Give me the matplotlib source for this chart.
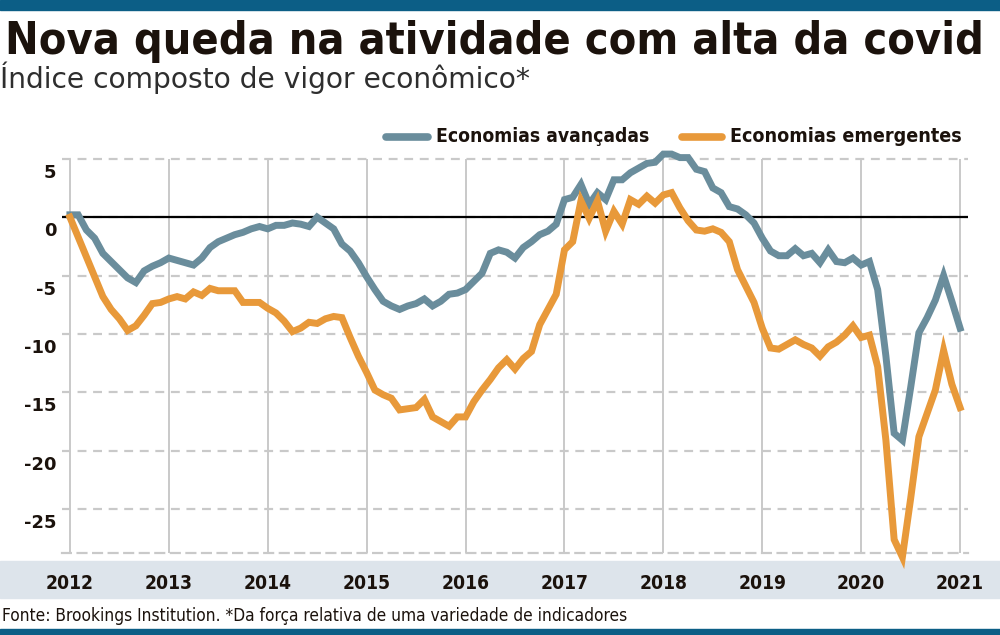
import os
import matplotlib
matplotlib.use('Agg')
import matplotlib.pyplot as plt
from matplotlib import font_manager
from matplotlib.font_manager import FontProperties
from matplotlib.lines import Line2D
from matplotlib.patches import Rectangle
from matplotlib.transforms import ScaledTranslation
import numpy as np

# ------------------------------------------------------------------------------
# data (monthly, Jan 2012 .. Jan 2021)
start_year = 2012
avancadas = [
    0.2, 0.2, -1.1, -1.8, -3.1, -3.8, -4.5, -5.2, -5.6, -4.6, -4.2, -3.9,
    -3.5, -3.7, -3.9, -4.1, -3.5, -2.6, -2.1, -1.8, -1.5, -1.3, -1.0, -0.8,
    -1.0, -0.7, -0.7, -0.5, -0.6, -0.8, 0.0, -0.5, -1.0, -2.3, -2.9, -3.9,
    -5.1, -6.2, -7.2, -7.6, -7.9, -7.6, -7.4, -7.0, -7.6, -7.2, -6.6, -6.5,
    -6.2, -5.5, -4.8, -3.1, -2.8, -3.0, -3.5, -2.6, -2.1, -1.5, -1.2, -0.6,
    1.5, 1.7, 2.8, 1.1, 2.1, 1.5, 3.2, 3.2, 3.8, 4.2, 4.6, 4.7,
    5.4, 5.4, 5.1, 5.1, 4.1, 3.9, 2.5, 2.1, 0.9, 0.7, 0.2, -0.5,
    -1.8, -2.9, -3.3, -3.3, -2.7, -3.3, -3.1, -3.9, -2.8, -3.8, -3.9, -3.5,
    -4.1, -3.8, -6.2, -11.9, -18.5, -19.1, -14.6, -9.9, -8.6, -7.1, -5.0, -7.2,
    -9.5,
]
emergentes = [
    0.0, -1.7, -3.4, -5.1, -6.8, -7.9, -8.7, -9.7, -9.3, -8.4, -7.4, -7.3,
    -7.0, -6.8, -7.0, -6.4, -6.7, -6.1, -6.3, -6.3, -6.3, -7.3, -7.3, -7.3,
    -7.8, -8.2, -8.9, -9.8, -9.5, -9.0, -9.1, -8.7, -8.5, -8.6, -10.3, -11.9,
    -13.3, -14.8, -15.2, -15.5, -16.5, -16.4, -16.3, -15.6, -17.1, -17.5, -17.9, -17.1,
    -17.1, -15.8, -14.8, -13.9, -12.9, -12.2, -13.0, -12.1, -11.5, -9.2, -7.9, -6.6,
    -2.8, -2.1, 1.4, -0.1, 1.4, -1.2, 0.5, -0.6, 1.5, 1.1, 1.8, 1.2,
    1.9, 2.1, 0.8, -0.3, -1.1, -1.2, -1.0, -1.3, -2.1, -4.5, -5.9, -7.3,
    -9.5, -11.2, -11.3, -10.9, -10.5, -10.9, -11.2, -11.9, -11.1, -10.7, -10.1, -9.3,
    -10.3, -10.1, -12.8, -19.1, -27.6, -29.1, -24.1, -18.8, -16.8, -14.8, -11.4, -14.3,
    -16.3,
]
anos = [2012, 2013, 2014, 2015, 2016, 2017, 2018, 2019, 2020, 2021]
yticks = [5, 0, -5, -10, -15, -20, -25]

titulo = "Nova queda na atividade com alta da covid"
subtitulo = "Índice composto de vigor econômico*"
nome_avancadas = "Economias avançadas"
nome_emergentes = "Economias emergentes"
fonte = "Fonte: Brookings Institution. *Da força relativa de uma variedade de indicadores"

# colours
azul_barra = '#0c5e86'
azul = '#6a8d9c'
laranja = '#e8993a'
faixa = '#dde4eb'
grade = '#c9c9c9'
tinta = '#1b120c'

# ------------------------------------------------------------------------------
# DejaVu Sans Condensed faces (by file), plain DejaVu if missing
files = [f.fname for f in font_manager.fontManager.ttflist]


def face(basename, bold):
    for fn in files:
        if os.path.basename(fn) == basename:
            return FontProperties(fname=fn)
    return FontProperties(family='DejaVu Sans', stretch='condensed',
                          weight='bold' if bold else 'normal')


fp_bold = face('DejaVuSansCondensed-Bold.ttf', True)
fp_reg = face('DejaVuSansCondensed.ttf', False)
fp_sub = FontProperties(family='DejaVu Sans')

W, H = 1000, 635
fig = plt.figure(figsize=(W / 100, H / 100), dpi=100)
fig.patch.set_facecolor('white')
renderer = fig.canvas.get_renderer()


def fy(py):
    # pixel row from the top -> figure fraction
    return 1 - py / H


def fit(t, width_px, size):
    # shrink/grow a text so that it spans width_px
    t.set_fontsize(size)
    w = t.get_window_extent(renderer).width
    t.set_fontsize(size * width_px / w)
    return t


# bands
fig.patches.append(Rectangle((0, fy(10)), 1, 10 / H, transform=fig.transFigure,
                             color=azul_barra, zorder=-2))
fig.patches.append(Rectangle((0, fy(598)), 1, 37 / H, transform=fig.transFigure,
                             color=faixa, zorder=-2))
fig.patches.append(Rectangle((0, 0), 1, 6 / H, transform=fig.transFigure,
                             color=azul_barra, zorder=-2))

# titles
t = fig.text(0.005, fy(54), titulo, fontproperties=fp_bold, color=tinta,
             va='baseline', ha='left')
fit(t, 980, 34)
t = fig.text(0.0, fy(88), subtitulo, fontproperties=fp_sub, color='#2e2e2e',
             va='baseline', ha='left')
fit(t, 530, 20)

# axes
ax = fig.add_axes([62 / W, 82 / H, 906 / W, 399.5 / H])
ax.set_facecolor('none')
x = start_year + np.arange(len(avancadas)) / 12.0
ax.set_xlim(2012 - 0.08, 2021 + 0.08)
ax.set_ylim(-28.75, 5.45)

for y in yticks:
    ax.axhline(y, color=grade, lw=1.6, ls=(0, (4, 3)), zorder=1)
ax.vlines(anos, -28.75, 5, color=grade, lw=1.4, zorder=1)
ax.axhline(0, color='black', lw=1.6, zorder=2)

ax.plot(x, avancadas, color=azul, lw=5, solid_joinstyle='miter', zorder=3, clip_on=False)
ax.plot(x, emergentes, color=laranja, lw=5, solid_joinstyle='miter', zorder=4, clip_on=False)

for s in ['top', 'right', 'left']:
    ax.spines[s].set_visible(False)
ax.spines['bottom'].set_color(grade)
ax.spines['bottom'].set_linestyle((0, (4, 3)))
ax.spines['bottom'].set_linewidth(1.6)

ax.set_yticks(yticks)
ax.set_yticklabels([str(v) for v in yticks])
ax.tick_params(axis='y', length=0, pad=4, labelsize=13)
for lab in ax.get_yticklabels():
    lab.set_fontweight('bold')
    lab.set_color(tinta)
    lab.set_transform(lab.get_transform() + ScaledTranslation(0, -0.12, fig.dpi_scale_trans))

ax.set_xticks(anos)
ax.set_xticklabels([str(a) for a in anos])
ax.tick_params(axis='x', length=0, pad=15)
year_size = None
for lab in ax.get_xticklabels():
    lab.set_fontproperties(fp_bold)
    lab.set_color(tinta)
    if year_size is None:
        fit(lab, 48, 17)
        year_size = lab.get_fontsize()
    lab.set_fontsize(year_size)

# legend
ly = fy(137)
fig.add_artist(Line2D([386 / W, 428 / W], [ly, ly], color=azul, lw=5.5,
                      solid_capstyle='round', transform=fig.transFigure))
t = fig.text(436 / W, ly, nome_avancadas, fontproperties=fp_bold, color=tinta,
             va='center', ha='left')
fit(t, 214, 15)
fig.add_artist(Line2D([682 / W, 722 / W], [ly, ly], color=laranja, lw=5.5,
                      solid_capstyle='round', transform=fig.transFigure))
t = fig.text(730 / W, ly, nome_emergentes, fontproperties=fp_bold, color=tinta,
             va='center', ha='left')
fit(t, 232, 15)

# footer
t = fig.text(0.002, fy(621), fonte, fontproperties=fp_reg, color=tinta,
             va='baseline', ha='left')
fit(t, 626, 13)

fig.savefig('out.png', dpi=100)
